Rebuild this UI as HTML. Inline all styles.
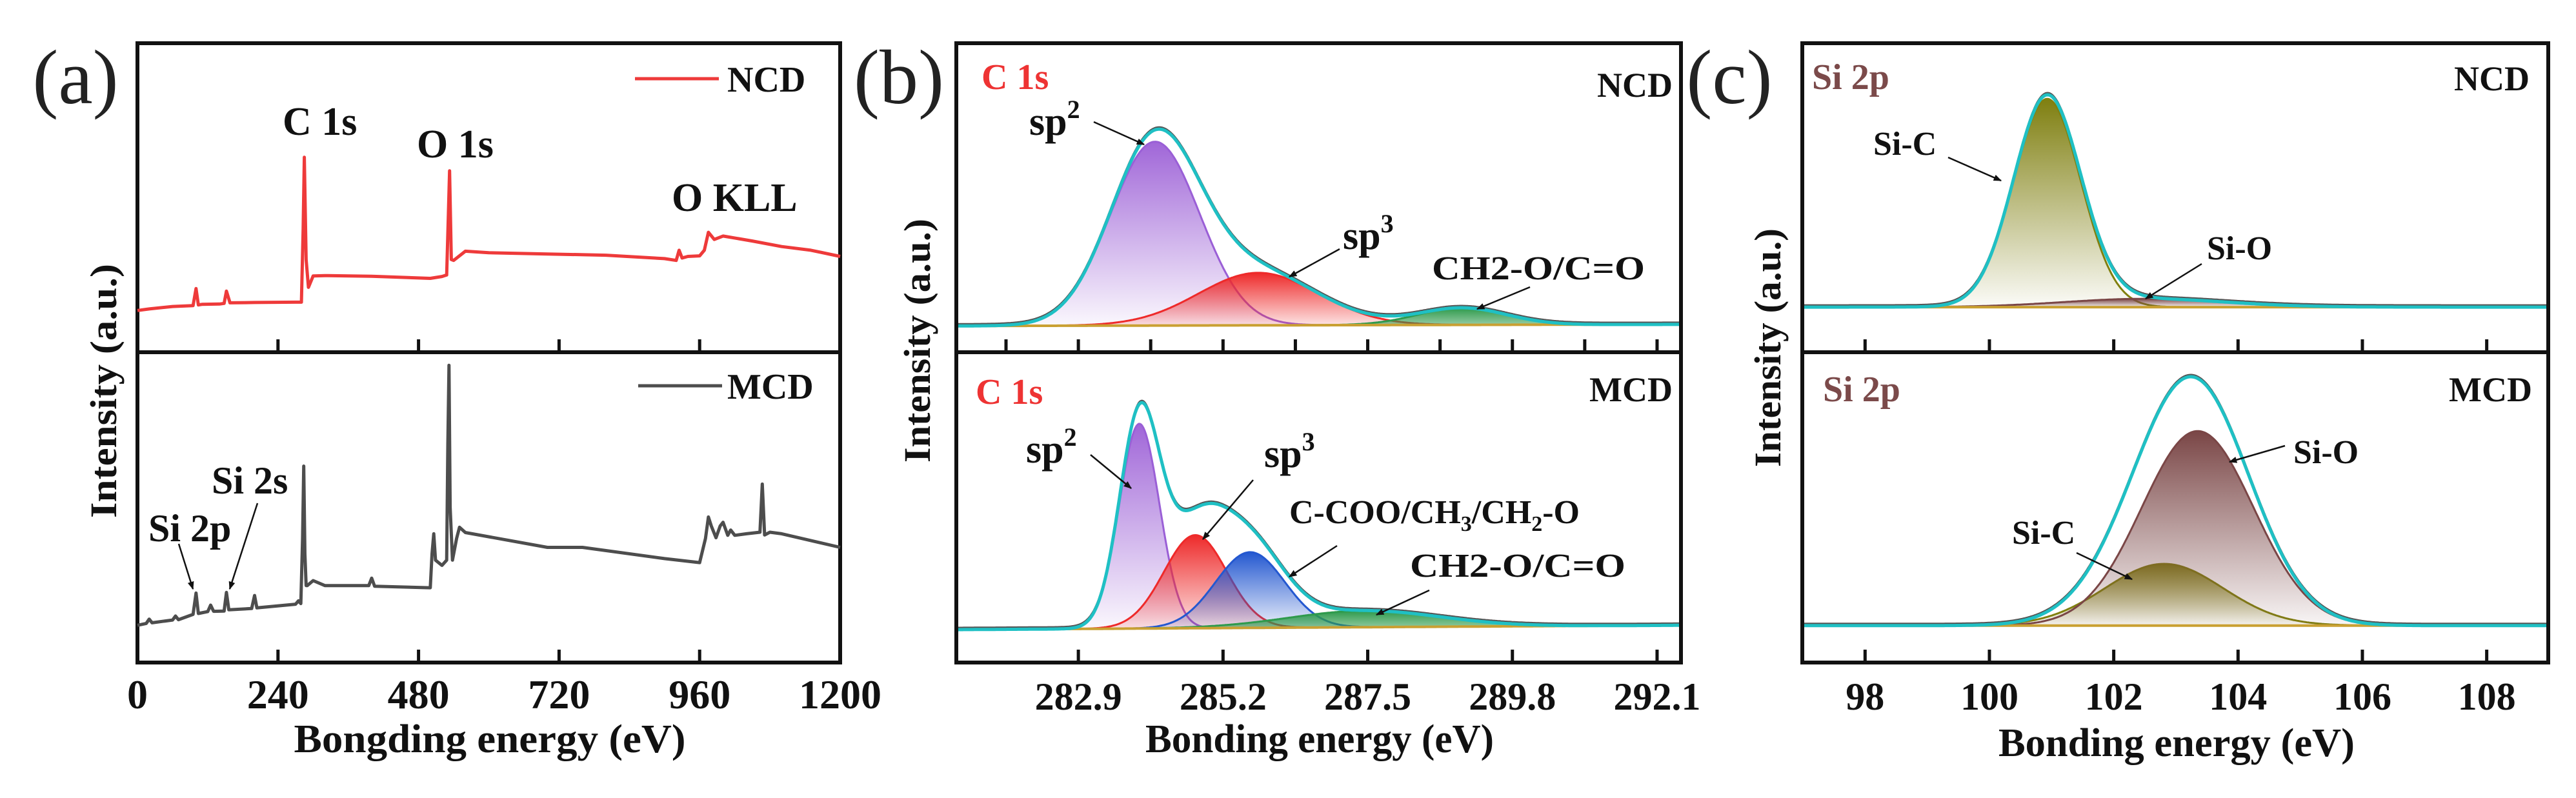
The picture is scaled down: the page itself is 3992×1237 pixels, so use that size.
<!DOCTYPE html>
<html><head><meta charset="utf-8">
<style>
html,body{margin:0;padding:0;background:#fff;}
svg{display:block;}
text{font-family:"Liberation Serif",serif;}
</style></head>
<body>
<svg id="fig" width="3992" height="1237" viewBox="0 0 3992 1237" xmlns="http://www.w3.org/2000/svg">
<defs>
  <linearGradient id="gPurple" x1="0" y1="0" x2="0" y2="1"><stop offset="0" stop-color="#a066d8"/><stop offset="1" stop-color="#a066d8" stop-opacity="0.05"/></linearGradient>
  <linearGradient id="gRed" x1="0" y1="0" x2="0" y2="1"><stop offset="0" stop-color="#ee2a2a"/><stop offset="1" stop-color="#ee2a2a" stop-opacity="0.12"/></linearGradient>
  <linearGradient id="gBlue" x1="0" y1="0" x2="0" y2="1"><stop offset="0" stop-color="#2458d0"/><stop offset="1" stop-color="#2458d0" stop-opacity="0.08"/></linearGradient>
  <linearGradient id="gGreen" x1="0" y1="0" x2="0" y2="1"><stop offset="0" stop-color="#2e9a4c"/><stop offset="1" stop-color="#2e9a4c" stop-opacity="0.5"/></linearGradient>
  <linearGradient id="gOlive" x1="0" y1="0" x2="0" y2="1"><stop offset="0" stop-color="#7f7f10"/><stop offset="1" stop-color="#7f7f10" stop-opacity="0.03"/></linearGradient>
  <linearGradient id="gBrown" x1="0" y1="0" x2="0" y2="1"><stop offset="0" stop-color="#7a4646"/><stop offset="1" stop-color="#7a4646" stop-opacity="0.05"/></linearGradient>
  <marker id="arr" viewBox="0 0 10 10" refX="9" refY="5" markerWidth="5" markerHeight="5" orient="auto"><path d="M0,1 L10,5 L0,9 z" fill="#111"/></marker>
</defs>
<g id="layer"></g>
</svg>
<script>
// ---------- Panel (a) survey data ----------
const aNcdEnergy=[0,20,60,95,100,104,110,140,148,152,158,200,270,280,283,285,288,292,300,320,400,500,520,528,531,533,536,540,560,600,700,800,900,920,925,930,940,960,968,975,985,1000,1050,1100,1150,1200];
const aNcdValue=[13.5,14.0,14.8,15.1,20.6,15.3,15.5,15.6,15.8,19.8,16,16.1,16.2,16.2,40,63.1,30,21,24.7,24.8,24.6,23.9,24.5,25,45,58.7,30,29.7,32.7,32.2,31.8,31.4,30.3,29.7,33,30.5,31,31.2,33,38.8,36.5,37.6,36,34.2,33,31.0];
const aMcdEnergy=[0,15,20,25,60,65,70,95,100,104,120,125,130,148,152,156,195,200,204,270,275,279,282,284,286,288,290,300,320,395,400,405,500,503,506,509,520,528,530,532,534,538,545,550,560,700,760,900,960,970,975,980,988,995,1000,1008,1013,1020,1040,1063,1067,1071,1080,1100,1200];
const aMcdValue=[12.0,12.6,14,12.8,13.7,15,13.8,15.5,22.4,15.8,16.4,18.5,16.5,16.6,22.6,17,17.4,21.6,17.6,18.8,19.9,19,40,63.3,35,24.8,24.8,26.4,24.8,24.8,27.2,24.6,24.1,35,41.5,33,31.3,33,70,95.8,50,33,40,43.6,41.9,37.1,37.1,33.5,32.2,40,46.9,44,40.2,44,45.2,41,42.7,41,41.5,42,57.5,41.1,42,41.5,37.1];
const aTicks=[0,240,480,720,960,1200];

// ---------- Panel (b) C 1s fits ----------
const bNcdCenters=[284.12,285.76,289.0];
const bNcdAmps=[59.5,17,5.5];
const bNcdSigmas=[0.71,0.95,0.7];
const bNcdBaseline=[8.5,9.0];
const bMcdCenters=[283.87,284.76,285.63,287.45];
const bMcdAmps=[66,30,24.4,5.3];
const bMcdSigmas=[0.32,0.5,0.55,1.2];
const bMcdBaseline=[10.6,12.0];
const bTickLabels=["282.9","285.2","287.5","289.8","292.1"];
const bTicks=[282.9,285.2,287.5,289.8,292.1];
const bMinorTicks=[281.75,282.9,284.05,285.2,286.35,287.5,288.65,289.8,290.95,292.1];

// ---------- Panel (c) Si 2p fits ----------
const cNcdCenters=[100.93,102.5];
const cNcdAmps=[67.4,2.7];
const cNcdSigmas=[0.54,1.3];
const cNcdBaseline=[14.6,14.6];
const cMcdCenters=[102.81,103.35];
const cMcdAmps=[19.9,62.7];
const cMcdSigmas=[0.95,0.9];
const cMcdBaseline=[11.9,11.9];
const cTicks=[98,100,102,104,106,108];

const NS="http://www.w3.org/2000/svg";
const layer=document.getElementById('layer');
function el(tag,attrs,parent){const e=document.createElementNS(NS,tag);for(const k in attrs)e.setAttribute(k,attrs[k]);(parent||layer).appendChild(e);return e;}

const TOP=67, MID=546, BOT=1027;
function yTop(v){return MID-v*(MID-TOP)/100;}
function yBot(v){return BOT-v*(BOT-MID)/100;}

function frame(x0,x1,name){
  const r=el('rect',{x:x0,y:TOP,width:x1-x0,height:BOT-TOP,fill:'none',stroke:'#111','stroke-width':6});
  
  
  const d=el('line',{x1:x0,x2:x1,y1:MID,y2:MID,stroke:'#111','stroke-width':6});
  
  
}
function ticks(xs,xf,ys,name){
  xs.forEach(t=>{ys.forEach(y0=>{
    const l=el('line',{x1:xf(t),x2:xf(t),y1:y0,y2:y0-20,stroke:'#111','stroke-width':5});
    
    
  });});
}
function txt(s,x,y,size,opts,name){
  const a={x:x,y:y,'font-size':size,'font-weight':'bold',fill:'#111'};
  Object.assign(a,opts||{});
  const t=el('text',a);t.textContent=s;
  
  
  return t;
}
function arrow(x1,y1,x2,y2,name){
  const l=el('line',{x1:x1,y1:y1,x2:x2,y2:y2,stroke:'#111','stroke-width':2.5,'marker-end':'url(#arr)'});
  
  
}
function polyline(xs,ys,stroke,w,name){
  let d='';for(let i=0;i<xs.length;i++)d+=(i?'L':'M')+xs[i].toFixed(1)+','+ys[i].toFixed(1);
  const p=el('path',{d:d,fill:'none',stroke:stroke,'stroke-width':w,'stroke-linejoin':'round'});
  
  
  return p;
}

// ===== Panel (a) =====
const aX=e=>213+e*(1302-213)/1200;
frame(213,1302,'panel-a');
ticks(aTicks.slice(1,5),aX,[MID,BOT],'panel-a-x');
polyline(aNcdEnergy.map(aX),aNcdValue.map(yTop),'#ee3a3a',5,'ncd-survey-line');
polyline(aMcdEnergy.map(aX),aMcdValue.map(yBot),'#4d4d4d',5,'mcd-survey-line');
aTicks.forEach(t=>txt(String(t),aX(t),1098,64,{'text-anchor':'middle'},'panel-a-tick-label'));
txt('(a)',117,160,120,{'font-weight':'normal','text-anchor':'middle',fill:'#222'},'panel-a-letter');
txt('Bongding energy (eV)',759,1166,62,{'text-anchor':'middle',textLength:607,lengthAdjust:'spacingAndGlyphs'},'panel-a-x-axis-title');
txt('Intensity (a.u.)',0,0,58,{'text-anchor':'middle',transform:'translate(180,606) rotate(-90)',textLength:394,lengthAdjust:'spacingAndGlyphs'},'panel-a-y-axis-title');
(function(){const l=el('line',{x1:984,x2:1114,y1:122,y2:122,stroke:'#ee3a3a','stroke-width':5});})();
txt('NCD',1127,142,56,{},'legend-ncd-label');
(function(){const l=el('line',{x1:989,x2:1119,y1:598,y2:598,stroke:'#4d4d4d','stroke-width':5});})();
txt('MCD',1127,618,56,{},'legend-mcd-label');
txt('C 1s',438,209,62,{},'label-c1s');
txt('O 1s',646,244,62,{},'label-o1s');
txt('O KLL',1041,327,62,{},'label-o-kll');
txt('Si 2s',328,765,60,{},'label-si2s');
txt('Si 2p',230,839,60,{},'label-si2p');
arrow(277,843,299,913,'arrow-si2p');
arrow(399,780,356,913,'arrow-si2s');

// ===== Gaussian fit panels =====
function gauss(e,c,a,s){return a*Math.exp(-(e-c)*(e-c)/(2*s*s));}
function fitPanel(xf,e0,e1,yf,centers,amps,sigmas,base,fills,strokes,name,envEnd){
  const step=(e1-e0)/600;const es=[];for(let e=e0;e<=e1+1e-9;e+=step)es.push(e);
  const bl=e=>base[0]+(base[1]-base[0])*(e-e0)/(e1-e0);
  centers.forEach((c,i)=>{
    const lo=Math.max(e0,c-4*sigmas[i]),hi=Math.min(e1,c+4*sigmas[i]);
    const pts=es.filter(e=>e>=lo&&e<=hi);
    let d='';pts.forEach((e,k)=>{d+=(k?'L':'M')+xf(e).toFixed(1)+','+yf(bl(e)+gauss(e,c,amps[i],sigmas[i])).toFixed(1);});
    for(let k=pts.length-1;k>=0;k--)d+='L'+xf(pts[k]).toFixed(1)+','+yf(bl(pts[k])).toFixed(1);
    d+='Z';
    const p=el('path',{d:d,fill:fills[i],stroke:strokes[i],'stroke-width':3});
    
    
  });
  polyline(es.map(xf),es.map(e=>yf(bl(e))),'#c9a032',4,name+'-background');
  const envE=es.filter(e=>e<=envEnd);
  const env=e=>bl(e)+centers.reduce((s,c,i)=>s+gauss(e,c,amps[i],sigmas[i]),0);
  polyline(envE.map(xf),envE.map(e=>yf(env(e))-3),'#555',3,name+'-raw-data');
  polyline(es.map(xf),es.map(e=>yf(env(e))),'#1fc0c4',5,name+'-envelope');
}

// ===== Panel (b) =====
const bE0=280.96,bE1=292.48,bX=e=>1482+(e-bE0)*(2605-1482)/(bE1-bE0);
fitPanel(bX,bE0,bE1,yTop,bNcdCenters,bNcdAmps,bNcdSigmas,bNcdBaseline,['url(#gPurple)','url(#gRed)','url(#gGreen)'],['#9a5fd6','#ee2a2a','#2e9a4c'],'b-ncd',bE1);
fitPanel(bX,bE0,bE1,yBot,bMcdCenters,bMcdAmps,bMcdSigmas,bMcdBaseline,['url(#gPurple)','url(#gRed)','url(#gBlue)','url(#gGreen)'],['#9a5fd6','#ee2a2a','#2458d0','#2e9a4c'],'b-mcd',bE1);
frame(1482,2605,'panel-b');
ticks(bMinorTicks,bX,[MID],'panel-b-x-top');
ticks(bTicks,bX,[BOT],'panel-b-x');
bTicks.forEach((t,i)=>txt(bTickLabels[i],bX(t),1100,60,{'text-anchor':'middle'},'panel-b-tick-label'));
txt('(b)',1393,160,120,{'font-weight':'normal','text-anchor':'middle',fill:'#222'},'panel-b-letter');
txt('Bonding energy (eV)',2045,1166,62,{'text-anchor':'middle',textLength:540,lengthAdjust:'spacingAndGlyphs'},'panel-b-x-axis-title');
txt('Intensity (a.u.)',0,0,58,{'text-anchor':'middle',transform:'translate(1441,528) rotate(-90)',textLength:378,lengthAdjust:'spacingAndGlyphs'},'panel-b-y-axis-title');
txt('C 1s',1521,138,56,{fill:'#ee3333'},'b-ncd-c1s-title');
txt('NCD',2592,150,54,{'text-anchor':'end'},'b-ncd-tag');
(function(){const t=txt('sp',1595,209,62,{},'b-ncd-sp2-label');const s=el('tspan',{dy:-26,'font-size':40},t);s.textContent='2';})();
arrow(1695,189,1773,224,'b-ncd-sp2-arrow');
(function(){const t=txt('sp',2081,386,62,{},'b-ncd-sp3-label');const s=el('tspan',{dy:-26,'font-size':40},t);s.textContent='3';})();
arrow(2076,386,1998,429,'b-ncd-sp3-arrow');
txt('CH2-O/C=O',2219,433,52,{textLength:330,lengthAdjust:'spacingAndGlyphs'},'b-ncd-ch2o-label');
arrow(2371,445,2289,479,'b-ncd-ch2o-arrow');
txt('C 1s',1512,626,56,{fill:'#ee3333'},'b-mcd-c1s-title');
txt('MCD',2592,622,54,{'text-anchor':'end'},'b-mcd-tag');
(function(){const t=txt('sp',1590,717,62,{},'b-mcd-sp2-label');const s=el('tspan',{dy:-26,'font-size':40},t);s.textContent='2';})();
arrow(1690,705,1753,757,'b-mcd-sp2-arrow');
(function(){const t=txt('sp',1959,724,62,{},'b-mcd-sp3-label');const s=el('tspan',{dy:-26,'font-size':40},t);s.textContent='3';})();
arrow(1942,744,1864,836,'b-mcd-sp3-arrow');
(function(){const t=txt('C-COO/CH',1998,811,52,{},'b-mcd-ccoo-label');
  let s=el('tspan',{dy:12,'font-size':34},t);s.textContent='3';
  s=el('tspan',{dy:-12},t);s.textContent='/CH';
  s=el('tspan',{dy:12,'font-size':34},t);s.textContent='2';
  s=el('tspan',{dy:-12},t);s.textContent='-O';})();
arrow(2072,846,1998,894,'b-mcd-ccoo-arrow');
txt('CH2-O/C=O',2185,894,52,{textLength:334,lengthAdjust:'spacingAndGlyphs'},'b-mcd-ch2o-label');
arrow(2215,915,2133,953,'b-mcd-ch2o-arrow');

// ===== Panel (c) =====
const cE0=96.99,cE1=108.99,cX=e=>2793+(e-cE0)*(3949-2793)/(cE1-cE0);
fitPanel(cX,cE0,cE1,yTop,cNcdCenters,cNcdAmps,cNcdSigmas,cNcdBaseline,['url(#gOlive)','url(#gBrown)'],['#80800f','#7a4646'],'c-ncd',cE1);
fitPanel(cX,cE0,cE1,yBot,cMcdCenters,cMcdAmps,cMcdSigmas,cMcdBaseline,['url(#gOlive)','url(#gBrown)'],['#80800f','#7a4646'],'c-mcd',cE1);
frame(2793,3949,'panel-c');
ticks(cTicks,cX,[MID,BOT],'panel-c-x');
cTicks.forEach(t=>txt(String(t),cX(t),1100,60,{'text-anchor':'middle'},'panel-c-tick-label'));
txt('(c)',2680,160,120,{'font-weight':'normal','text-anchor':'middle',fill:'#222'},'panel-c-letter');
txt('Bonding energy (eV)',3373,1172,62,{'text-anchor':'middle',textLength:552,lengthAdjust:'spacingAndGlyphs'},'panel-c-x-axis-title');
txt('Intensity (a.u.)',0,0,58,{'text-anchor':'middle',transform:'translate(2759,539) rotate(-90)',textLength:370,lengthAdjust:'spacingAndGlyphs'},'panel-c-y-axis-title');
txt('Si 2p',2808,138,56,{fill:'#7b4a4a'},'c-ncd-si2p-title');
txt('NCD',3920,140,54,{'text-anchor':'end'},'c-ncd-tag');
txt('Si-C',2903,240,52,{},'c-ncd-sic-label');
arrow(3019,244,3101,280,'c-ncd-sic-arrow');
txt('Si-O',3420,402,52,{},'c-ncd-sio-label');
arrow(3412,409,3325,463,'c-ncd-sio-arrow');
txt('Si 2p',2825,622,56,{fill:'#7b4a4a'},'c-mcd-si2p-title');
txt('MCD',3924,622,54,{'text-anchor':'end'},'c-mcd-tag');
txt('Si-O',3554,718,52,{},'c-mcd-sio-label');
arrow(3541,691,3455,716,'c-mcd-sio-arrow');
txt('Si-C',3118,843,52,{},'c-mcd-sic-label');
arrow(3218,857,3304,898,'c-mcd-sic-arrow');
</script>
</body></html>
